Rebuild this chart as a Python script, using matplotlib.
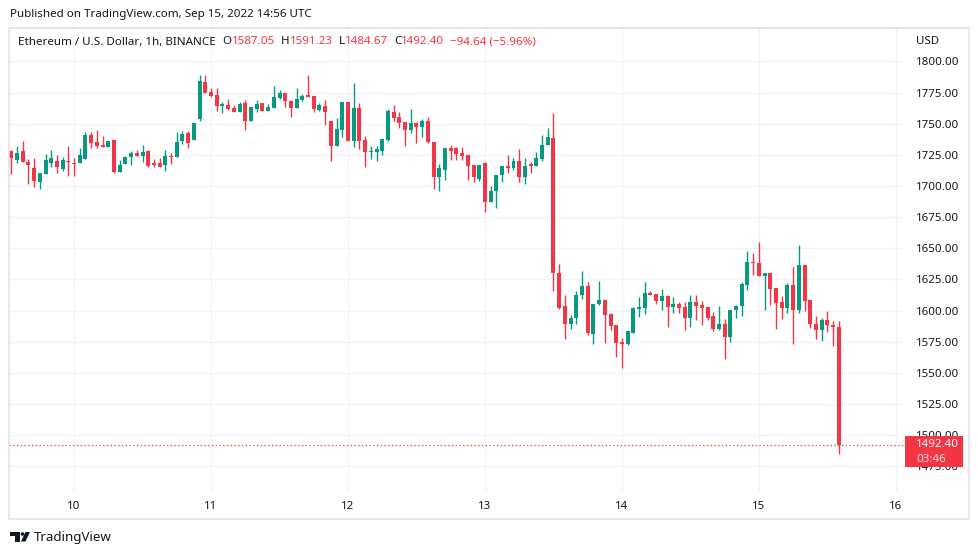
import matplotlib
matplotlib.use("Agg")
import matplotlib.pyplot as plt
from matplotlib.patches import Rectangle, Polygon, Circle
import numpy as np

plt.rcParams['font.family'] = ['Noto Sans', 'DejaVu Sans']

# ---- data: ETH/USD 1h candles, Sep 9 13:00 -> Sep 15 14:00 (UTC) ----
first_hour = 13  # hours after Sep 9 00:00
opens = [
    1728.3, 1721.1, 1727.7, 1719.5, 1714.7, 1702.9, 1709.6, 1718.1, 1720.3, 1713.6,
    1720.3, 1718.1, 1718.1, 1721.6, 1741.1, 1735.0, 1733.1, 1731.5, 1737.1, 1711.5,
    1717.6, 1722.9, 1726.4, 1724.3, 1727.7, 1718.4, 1718.4, 1716.8, 1724.3, 1722.9,
    1736.1, 1742.2, 1736.8, 1753.7, 1783.8, 1775.6, 1773.2, 1764.3, 1765.1, 1762.2,
    1759.5, 1766.2, 1752.3, 1761.7, 1766.2, 1759.8, 1762.2, 1771.0, 1774.5, 1768.4,
    1762.2, 1768.9, 1772.9, 1772.4, 1760.9, 1764.3, 1752.3, 1732.3, 1745.1, 1767.5,
    1735.8, 1762.2, 1737.1, 1727.2, 1727.0, 1728.3, 1737.1, 1759.5, 1755.0, 1751.5,
    1745.1, 1750.2, 1747.0, 1752.3, 1735.5, 1706.9, 1713.1, 1730.1, 1730.1, 1726.4,
    1725.1, 1717.1, 1705.6, 1718.1, 1686.9, 1695.7, 1709.0, 1716.3, 1714.1, 1720.3,
    1706.9, 1717.6, 1715.7, 1721.6, 1732.8, 1738.4, 1630.3, 1603.3, 1589.5, 1594.2,
    1612.1, 1619.3, 1580.8, 1604.9, 1608.6, 1596.9, 1588.1, 1574.7, 1572.8, 1582.2,
    1600.9, 1601.9, 1613.9, 1612.9, 1607.6, 1611.6, 1602.8, 1604.9, 1602.8, 1593.9,
    1606.8, 1604.1, 1602.8, 1595.3, 1584.8, 1589.4, 1578.7, 1600.6, 1603.6, 1620.1,
    1639.3, 1638.3, 1627.6, 1630.0, 1618.0, 1606.8, 1601.9, 1620.1, 1600.1, 1636.9,
    1608.6, 1589.4, 1584.0, 1592.1, 1588.6, 1587.05,
]
highs = [
    1728.8, 1732.3, 1735.8, 1721.6, 1722.1, 1710.4, 1725.6, 1728.8, 1724.8, 1723.0,
    1732.3, 1722.1, 1730.4, 1743.0, 1743.0, 1745.1, 1740.3, 1736.3, 1737.1, 1721.1,
    1724.3, 1728.3, 1729.1, 1733.1, 1729.1, 1721.6, 1722.4, 1728.8, 1726.1, 1743.0,
    1744.3, 1744.3, 1750.2, 1789.2, 1789.2, 1779.0, 1778.5, 1767.0, 1769.7, 1764.9,
    1767.0, 1768.9, 1763.0, 1768.9, 1766.2, 1765.7, 1780.4, 1776.9, 1774.5, 1769.1,
    1778.5, 1773.7, 1789.2, 1772.4, 1766.2, 1768.9, 1752.3, 1754.2, 1767.5, 1767.5,
    1782.5, 1766.5, 1739.8, 1732.3, 1732.3, 1737.6, 1761.7, 1765.1, 1759.5, 1751.5,
    1761.7, 1751.0, 1753.7, 1755.0, 1735.5, 1717.6, 1730.4, 1732.8, 1731.5, 1731.5,
    1725.1, 1717.1, 1717.1, 1718.9, 1700.2, 1709.0, 1716.3, 1725.1, 1722.1, 1729.6,
    1722.4, 1718.9, 1727.0, 1741.1, 1746.4, 1758.5, 1637.5, 1612.6, 1596.1, 1615.6,
    1631.6, 1622.8, 1604.9, 1623.3, 1608.6, 1598.2, 1588.1, 1578.2, 1583.5, 1602.8,
    1610.8, 1622.8, 1615.6, 1612.9, 1617.4, 1611.6, 1610.8, 1606.8, 1606.8, 1612.1,
    1612.1, 1607.6, 1602.8, 1598.7, 1603.3, 1593.4, 1600.6, 1604.1, 1622.8, 1647.4,
    1646.3, 1655.4, 1630.0, 1630.0, 1618.0, 1611.3, 1622.0, 1634.8, 1652.9, 1636.9,
    1608.6, 1595.3, 1594.2, 1599.5, 1591.5, 1591.23,
]
lows = [
    1709.6, 1718.1, 1718.9, 1701.6, 1698.9, 1697.6, 1709.6, 1715.5, 1710.1, 1712.3,
    1708.3, 1708.3, 1718.1, 1721.6, 1730.4, 1730.1, 1731.5, 1730.9, 1710.1, 1711.5,
    1717.6, 1716.8, 1724.3, 1719.5, 1714.9, 1715.0, 1715.0, 1712.3, 1717.6, 1722.9,
    1733.6, 1730.1, 1736.8, 1751.8, 1774.5, 1771.6, 1760.3, 1758.5, 1760.9, 1759.0,
    1759.0, 1745.1, 1752.3, 1759.0, 1760.3, 1759.8, 1762.2, 1770.2, 1763.0, 1755.0,
    1762.2, 1767.8, 1771.8, 1759.0, 1759.8, 1748.8, 1719.7, 1732.3, 1739.0, 1735.8,
    1731.5, 1729.6, 1715.5, 1721.6, 1719.7, 1725.1, 1736.3, 1751.8, 1746.4, 1731.8,
    1742.2, 1734.2, 1739.5, 1734.4, 1697.6, 1695.9, 1705.1, 1721.1, 1721.1, 1721.1,
    1704.8, 1703.0, 1704.2, 1678.9, 1686.9, 1682.4, 1702.9, 1710.1, 1713.1, 1702.9,
    1701.6, 1710.1, 1715.7, 1719.7, 1732.8, 1615.6, 1600.9, 1577.4, 1585.4, 1589.4,
    1609.4, 1580.0, 1573.4, 1604.1, 1573.9, 1584.6, 1562.7, 1554.1, 1572.0, 1582.2,
    1594.7, 1597.4, 1612.1, 1604.9, 1600.1, 1586.7, 1597.9, 1597.9, 1584.6, 1586.7,
    1592.6, 1588.6, 1592.1, 1583.3, 1584.0, 1561.4, 1574.7, 1594.2, 1595.5, 1616.1,
    1628.6, 1627.6, 1600.1, 1604.6, 1584.8, 1592.9, 1597.9, 1573.4, 1597.9, 1599.5,
    1585.9, 1576.8, 1575.2, 1582.7, 1571.2, 1484.67,
]
closes = [
    1722.1, 1726.4, 1718.9, 1716.8, 1704.2, 1710.4, 1721.1, 1722.1, 1715.0, 1721.1,
    1718.9, 1717.6, 1724.8, 1741.1, 1734.2, 1732.3, 1731.5, 1735.8, 1710.9, 1716.8,
    1723.5, 1726.4, 1724.3, 1727.5, 1716.3, 1717.1, 1715.5, 1724.3, 1722.9, 1735.5,
    1741.6, 1734.2, 1750.2, 1784.4, 1774.5, 1772.4, 1764.3, 1765.7, 1761.7, 1759.5,
    1765.7, 1752.3, 1763.0, 1765.7, 1760.3, 1763.0, 1771.6, 1775.0, 1767.8, 1762.2,
    1769.7, 1772.4, 1771.8, 1761.7, 1764.9, 1759.0, 1732.3, 1745.6, 1767.5, 1735.8,
    1762.2, 1736.3, 1727.0, 1728.3, 1729.6, 1737.6, 1759.8, 1754.2, 1750.5, 1745.1,
    1750.2, 1747.0, 1752.3, 1735.0, 1706.9, 1714.1, 1730.4, 1728.3, 1725.6, 1724.3,
    1716.3, 1707.5, 1717.1, 1686.9, 1696.2, 1709.0, 1716.3, 1714.1, 1720.3, 1706.9,
    1716.3, 1716.3, 1722.4, 1733.1, 1739.0, 1630.0, 1602.2, 1588.9, 1594.2, 1612.1,
    1619.3, 1581.9, 1604.9, 1608.6, 1596.1, 1587.5, 1573.9, 1573.1, 1583.5, 1601.9,
    1602.7, 1613.9, 1612.6, 1607.6, 1611.3, 1602.8, 1604.9, 1601.9, 1593.9, 1606.8,
    1603.6, 1601.9, 1594.2, 1584.8, 1589.4, 1578.7, 1600.6, 1603.6, 1621.5, 1639.3,
    1638.0, 1627.6, 1630.0, 1616.9, 1605.9, 1601.9, 1620.6, 1600.1, 1636.9, 1607.6,
    1588.9, 1584.0, 1592.1, 1588.1, 1586.7, 1492.40,
]
day_labels = ["10", "11", "12", "13", "14", "15", "16"]
price_ticks = [1475, 1500, 1525, 1550, 1575, 1600, 1625, 1650, 1675, 1700,
               1725, 1750, 1775, 1800]
last_price = 1492.40
change_abs = -94.64
change_pct = -5.96
countdown = "03:46"

UP, DOWN = "#089981", "#F23645"
INK = "#131722"
GRID = "#f0f3fa"

W, H = 979, 555
fig = plt.figure(figsize=(W / 100, H / 100), dpi=100)
fig.patch.set_facecolor("white")

# main price pane (pixel box 9..905 x 29..491)
ax = fig.add_axes([9 / W, 1 - 491 / H, (905 - 9) / W, (491 - 29) / H])
o, h, l, c = map(np.array, (opens, highs, lows, closes))
x = first_hour + np.arange(len(o))
col = np.where(c >= o, UP, DOWN)
ax.vlines(x, l, h, colors=col, linewidth=1.0, zorder=3)
ax.bar(x, np.maximum(np.abs(c - o), 0.8), bottom=np.minimum(o, c), width=0.7,
       color=col, linewidth=0, zorder=4)
ax.axhline(last_price, color=DOWN, linestyle=(0, (1, 2)), linewidth=0.9, zorder=2)

ax.set_xlim(12.6, 169.6)
ax.set_ylim(1455.1, 1826.0)
for s in ax.spines.values():
    s.set_visible(False)
ax.set_xticks([24 * (i + 1) for i in range(len(day_labels))])
ax.set_xticklabels(day_labels, fontsize=8.3, color=INK)
ax.get_xticklabels()[2].set_fontweight("bold")
ax.set_yticks(price_ticks)
ax.set_yticklabels([f"{p:.2f}" for p in price_ticks], fontsize=8.3, color=INK)
ax.yaxis.tick_right()
ax.tick_params(axis="y", length=0, pad=8)
ax.tick_params(axis="x", length=0, pad=7)
ax.grid(True, color=GRID, linewidth=1.0, zorder=0)

# overlay in pixel coordinates for frame, header and labels
ov = fig.add_axes([0, 0, 1, 1], zorder=10)
ov.set_xlim(0, W)
ov.set_ylim(H, 0)
ov.axis("off")
ov.patch.set_alpha(0)
ov.add_patch(Rectangle((9, 28), 960, 491, fill=False, edgecolor="#e0e3eb", linewidth=1.2))

ov.text(10, 15, "Published on TradingView.com, Sep 15, 2022 14:56 UTC",
        fontsize=8.35, color=INK, va="center", ha="left")

# legend line: title + OHLC pieces laid out one after another
fig.canvas.draw()
rend = fig.canvas.get_renderer()
pieces = [("Ethereum / U.S. Dollar, 1h, BINANCE", INK, 7),
          ("O", INK, 0), (f"{opens[-1]:.2f}", DOWN, 6),
          ("H", INK, 0), (f"{highs[-1]:.2f}", DOWN, 6),
          ("L", INK, 0), (f"{lows[-1]:.2f}", DOWN, 6),
          ("C", INK, 0), (f"{closes[-1]:.2f}", DOWN, 6),
          (f"\u2212{abs(change_abs):.2f} (\u2212{abs(change_pct):.2f}%)", DOWN, 0)]
cx = 18
for txt, colr, gap in pieces:
    t = ov.text(cx, 42, txt, fontsize=8.35, color=colr, va="center", ha="left")
    bb = t.get_window_extent(renderer=rend)
    cx += bb.width + gap

ov.text(916, 41, "USD", fontsize=8.3, color=INK, va="center", ha="left")

# last price label
ov.add_patch(Rectangle((905, 436), 58, 31, color=DOWN, linewidth=0))
ov.text(916, 444.5, f"{last_price:.2f}", fontsize=8.3, color="white", va="center", ha="left")
ov.text(916, 459, countdown, fontsize=8.3, color="white", alpha=0.8, va="center", ha="left")

# TradingView logo + name
ov.add_patch(Polygon([(10, 532), (20, 532), (20, 541.5), (15.5, 541.5), (15.5, 535.5), (10, 535.5)],
                     closed=True, color=INK, linewidth=0))
ov.add_patch(Circle((22.5, 534), 1.8, color=INK, linewidth=0))
ov.add_patch(Polygon([(25.5, 532), (30, 532), (25.5, 541.5), (21, 541.5)], closed=True, color=INK, linewidth=0))
ov.text(34, 537, "TradingView", fontsize=9.6, color=INK, va="center", ha="left")

fig.savefig("out.png", dpi=100, facecolor="white")
